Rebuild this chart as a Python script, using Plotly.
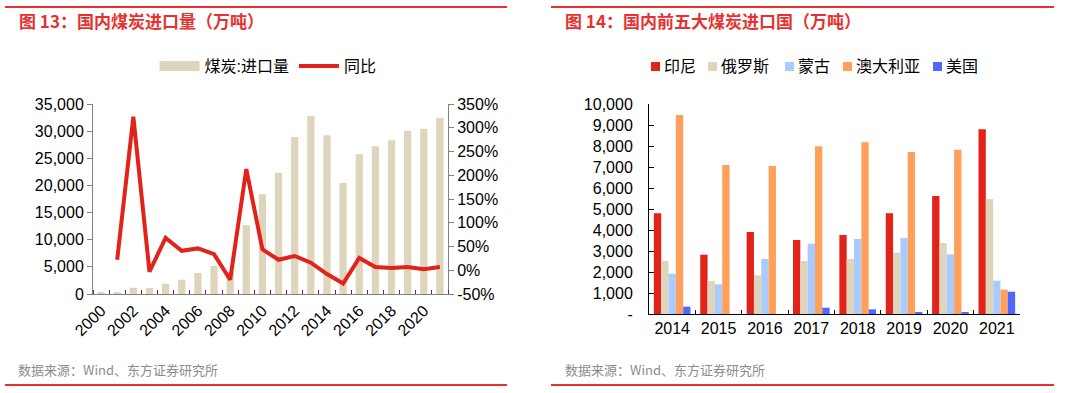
import plotly.graph_objects as go

# ---- Left chart data (图13) ----
years = list(range(2000, 2022))
imports = [218, 266, 1170, 1100, 1900, 2640, 3870, 5160, 4040, 12710,
           18360, 22350, 28920, 32850, 29230, 20450, 25730, 27200, 28300,
           30090, 30460, 32420]
yoy_years = list(range(2001, 2022))
yoy = [22, 323, -3, 68, 41, 46, 34, -20, 213, 44, 22, 30, 16, -8, -28,
       26, 7, 5, 7, 2, 7]
left_tick_years = list(range(2000, 2021, 2))
left_y_ticks = [0, 5000, 10000, 15000, 20000, 25000, 30000, 35000]
right_pct_ticks = [-50, 0, 50, 100, 150, 200, 250, 300, 350]

# ---- Right chart data (图14) ----
cat_years = ["2014", "2015", "2016", "2017", "2018", "2019", "2020", "2021"]
indonesia = [4795, 2825, 3905, 3524, 3762, 4794, 5619, 8794]
russia = [2524, 1571, 1841, 2524, 2619, 2921, 3381, 5476]
mongolia = [1920, 1413, 2619, 3349, 3571, 3619, 2841, 1587]
australia = [9476, 7095, 7048, 7984, 8175, 7714, 7825, 1159]
usa = [350, 0, 0, 300, 222, 95, 80, 1063]
country_names = ["印尼", "俄罗斯", "蒙古", "澳大利亚", "美国"]
right_y_ticks = list(range(0, 10001, 1000))
right_y_text = ["-"] + [f"{v:,}" for v in right_y_ticks[1:]]

FONT = "Liberation Sans, Arial, Noto Sans CJK SC, sans-serif"
RED = "#E2231A"
BEIGE = "#DFD5BD"
colors = ["#E2231A", "#DFD5BD", "#A9CBFF", "#FFA05A", "#5068FF"]

W, H = 1080, 393
def px_x(p): return p / W
def px_y(p): return 1 - p / H

fig = go.Figure()

# legend-only proxy for the bar series (wide swatch like the reference)
fig.add_trace(go.Scatter(x=[None], y=[None], name="煤炭:进口量", mode="lines",
                         line=dict(color=BEIGE, width=10), xaxis="x", yaxis="y",
                         legend="legend", legendgroup="imp"))
fig.add_trace(go.Bar(x=years, y=imports, name="煤炭:进口量", marker_color=BEIGE,
                     width=0.45, xaxis="x", yaxis="y", legend="legend",
                     legendgroup="imp", showlegend=False))
fig.add_trace(go.Scatter(x=yoy_years, y=yoy, name="同比", mode="lines",
                         line=dict(color=RED, width=4), xaxis="x", yaxis="y2",
                         legend="legend"))

series = [indonesia, russia, mongolia, australia, usa]
for name, vals, c in zip(country_names, series, colors):
    fig.add_trace(go.Bar(x=cat_years, y=vals, name=name, marker_color=c,
                         xaxis="x3", yaxis="y3", showlegend=False))

tickfont = dict(family=FONT, size=16, color="#000000")

fig.update_layout(
    template="none",
    width=W, height=H,
    margin=dict(l=0, r=0, t=0, b=0, pad=0, autoexpand=False),
    paper_bgcolor="white", plot_bgcolor="white",
    font=dict(family=FONT, size=16, color="#000"),
    barmode="group", bargap=0.21, bargroupgap=0,
    xaxis=dict(domain=[px_x(93), px_x(448)], anchor="y", range=[1999.5, 2021.5],
               tickmode="array", tickvals=left_tick_years,
               ticktext=[str(v) for v in left_tick_years], tickangle=-45,
               ticks="", showline=True, linecolor="#808080", linewidth=1,
               showgrid=False, zeroline=False, tickfont=tickfont, automargin=False,
               minor=dict(tickmode="linear", tick0=1999.5, dtick=1,
                          ticks="inside", ticklen=4, tickcolor="#404040",
                          showgrid=False)),
    yaxis=dict(domain=[px_y(294), px_y(104)], anchor="x", range=[0, 35000],
               tickmode="array", tickvals=left_y_ticks,
               ticktext=[f"{v:,}" for v in left_y_ticks],
               ticks="outside", ticklen=5, tickcolor="#808080",
               showline=True, linecolor="#808080", linewidth=1,
               showgrid=False, zeroline=False, tickfont=tickfont, automargin=False),
    yaxis2=dict(domain=[px_y(294), px_y(104)], anchor="x", overlaying="y",
                side="right", range=[-50, 350], tickmode="array",
                tickvals=right_pct_ticks,
                ticktext=[f"{v}%" for v in right_pct_ticks],
                ticks="outside", ticklen=5, tickcolor="#808080",
                showline=True, linecolor="#808080", linewidth=1,
                showgrid=False, zeroline=False, tickfont=tickfont, automargin=False),
    xaxis3=dict(domain=[px_x(649), px_x(1020)], anchor="y3", type="category",
                tickson="boundaries", ticks="inside", ticklen=4,
                tickcolor="#000", showline=True, linecolor="#000", linewidth=1,
                showgrid=False, zeroline=False, tickfont=tickfont, automargin=False),
    yaxis3=dict(domain=[px_y(314), px_y(104)], anchor="x3", range=[0, 10000],
                tickmode="array", tickvals=right_y_ticks, ticktext=right_y_text,
                ticks="inside", ticklen=5, tickcolor="#000",
                showline=True, linecolor="#000", linewidth=1,
                showgrid=False, zeroline=False, tickfont=tickfont,
                ticklabelstandoff=12, automargin=False),
    legend=dict(orientation="h", x=px_x(268), xanchor="center", y=px_y(66),
                yanchor="middle", font=dict(family=FONT, size=16),
                itemwidth=40, bgcolor="rgba(0,0,0,0)"),
    showlegend=True,
)

# Hand-drawn legend for the right chart (compact spacing as in reference)
leg_sq_x = [651, 708, 785, 843, 933]
for name, c, sx in zip(country_names, colors, leg_sq_x):
    fig.add_shape(type="rect", xref="paper", yref="paper",
                  x0=px_x(sx), x1=px_x(sx + 9), y0=px_y(71), y1=px_y(62),
                  fillcolor=c, line=dict(width=0))
    fig.add_annotation(text=name, xref="paper", yref="paper",
                       x=px_x(sx + 11), y=px_y(66), xanchor="left", yanchor="middle",
                       showarrow=False, font=dict(family=FONT, size=16, color="#000"))

# Decorative frame lines (top and bottom red rules)
for x0, x1 in [(5, 507), (551, 1054)]:
    fig.add_shape(type="line", xref="paper", yref="paper",
                  x0=px_x(x0), x1=px_x(x1), y0=px_y(7), y1=px_y(7),
                  line=dict(color="#E8312F", width=2))
    fig.add_shape(type="line", xref="paper", yref="paper",
                  x0=px_x(x0), x1=px_x(x1), y0=px_y(385), y1=px_y(385),
                  line=dict(color="#E8312F", width=2))

titles = [("图 13：国内煤炭进口量（万吨）", 17), ("图 14：国内前五大煤炭进口国（万吨）", 563)]
for t, x in titles:
    fig.add_annotation(text=f"<b>{t}</b>", xref="paper", yref="paper",
                       x=px_x(x), y=px_y(20), xanchor="left", yanchor="middle",
                       showarrow=False,
                       font=dict(family="Noto Sans CJK SC, sans-serif", size=17,
                                 color="#E8312F"))
for x in [16, 563]:
    fig.add_annotation(text="数据来源：Wind、东方证券研究所", xref="paper", yref="paper",
                       x=px_x(x), y=px_y(369), xanchor="left", yanchor="middle",
                       showarrow=False,
                       font=dict(family="Noto Sans CJK SC, sans-serif", size=13,
                                 color="#8C8C8C"))

fig.write_html("out.html", config={"displayModeBar": False},
               post_script="document.body.style.margin='0px';document.body.style.overflow='hidden';")
